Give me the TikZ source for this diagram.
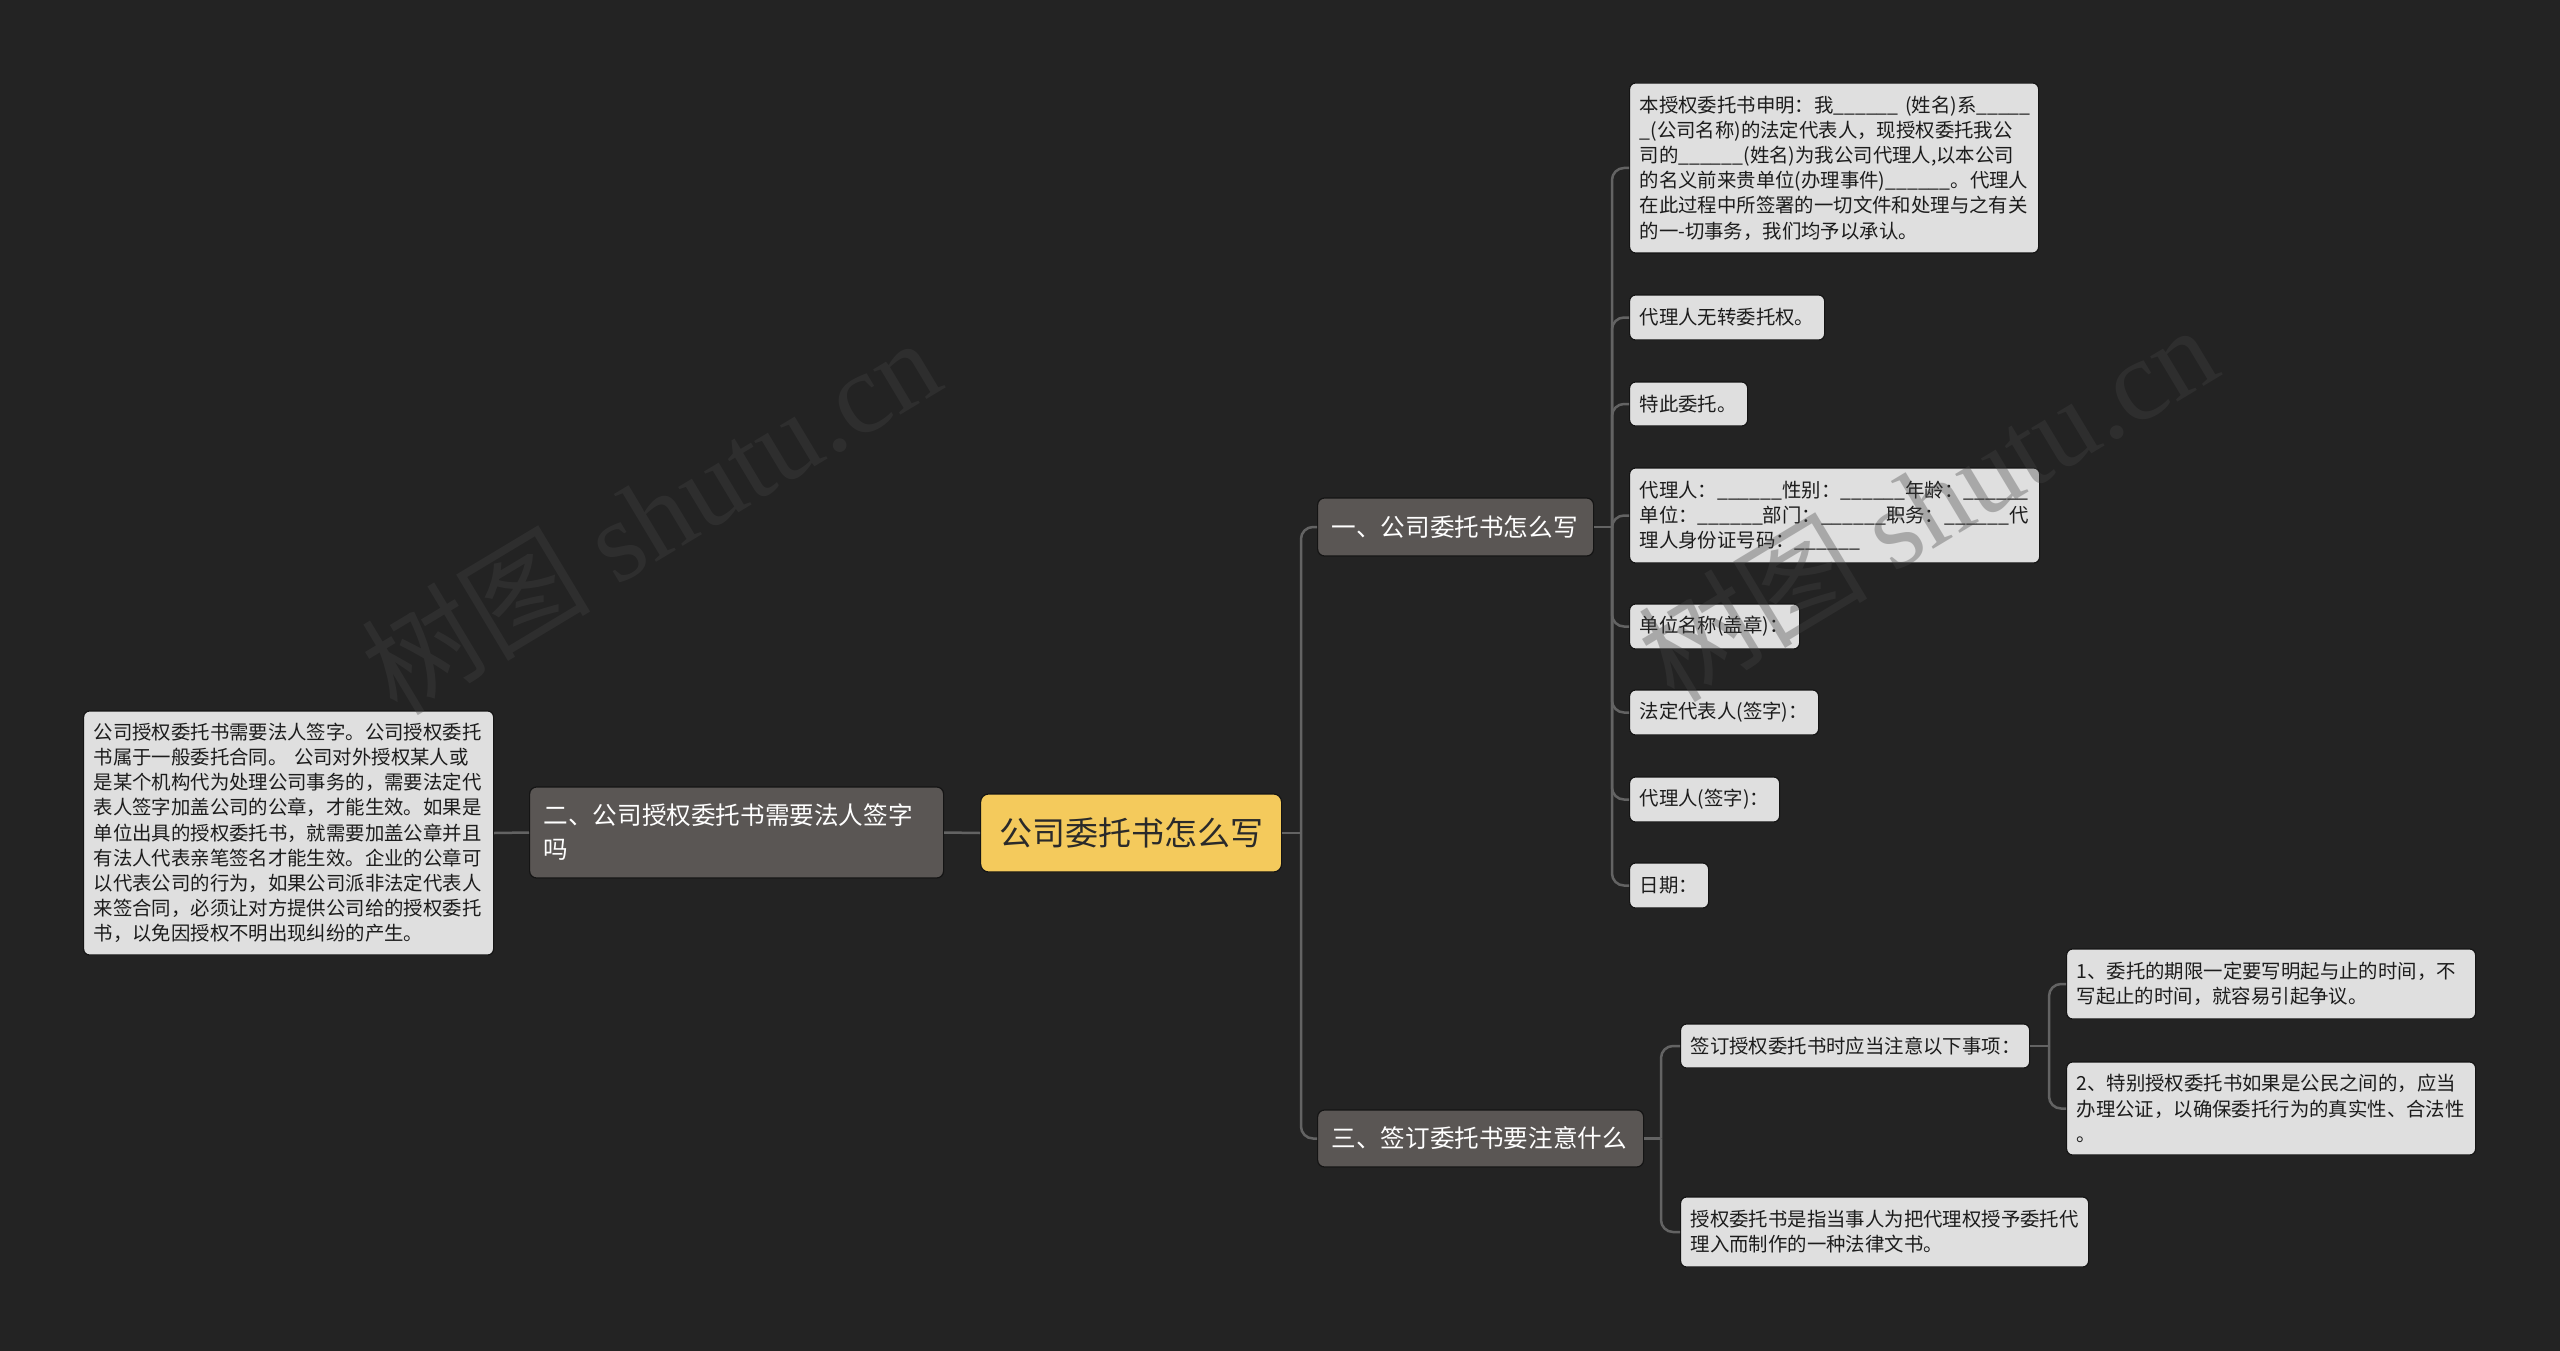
\documentclass[tikz,border=0pt]{standalone}
\usepackage{fontspec}
\setmainfont{Noto Sans CJK SC}
\newfontfamily\wmserif{Liberation Serif}
\definecolor{bgc}{HTML}{232323}
\definecolor{leafc}{HTML}{DFDFDF}
\definecolor{leaftext}{HTML}{1C1C1C}
\definecolor{midc}{HTML}{5A5654}
\definecolor{rootc}{HTML}{F4CA5C}
\definecolor{roottext}{HTML}{2A2A2A}
\definecolor{linec}{HTML}{636363}
\definecolor{edgec}{HTML}{141414}
\definecolor{wmc}{HTML}{444444}
\tikzset{
  conn/.style={draw=linec, line width=2.5pt, rounded corners=12pt},
  boxedge/.style={draw=edgec, line width=1.2pt},
  leaf/.style={boxedge, fill=leafc, rounded corners=6pt, text=leaftext, anchor=west, align=left,
    inner xsep=10pt, inner ysep=3pt, font=\fontsize{19.4}{25.2}\selectfont},
  mid/.style={boxedge, fill=midc, rounded corners=7pt, text=white, anchor=west, align=left,
    inner xsep=14pt, inner ysep=3pt, font=\fontsize{24.6}{34}\selectfont},
  rootn/.style={boxedge, fill=rootc, rounded corners=8pt, text=roottext, anchor=west, align=center,
    inner xsep=0pt, inner ysep=3pt, font=\fontsize{33}{40}\selectfont},
  wm/.style={text=wmc, opacity=0.35, font=\fontsize{115}{120}\selectfont, rotate=31}
}
\begin{document}
\begin{tikzpicture}[x=1pt, y=-1pt]
\useasboundingbox (0,0) rectangle (2560,1351);
\fill[bgc] (0,0) rectangle (2560,1351);

% connectors first (below boxes)
\coordinate (s0) at (1301,833);
\coordinate (s1) at (1612,527);
\coordinate (s3) at (1661,1138.5);
\coordinate (sA) at (2049,1046);

% root and second level
\node[rootn, text width=301pt, minimum height=78pt] (root) at (980,833) {公司委托书怎么写};
\node[mid, text width=386pt, minimum height=91pt] (n2) at (529,832.5) {二、公司授权委托书需要法人签字\\吗};
\node[mid, text width=248pt, minimum height=58pt] (n1) at (1317,527) {一、公司委托书怎么写};
\node[mid, text width=298pt, minimum height=57pt] (n3) at (1317,1138.5) {三、签订委托书要注意什么};

% left leaf
\node[leaf, text width=390pt, minimum height=244pt] (ll) at (83,833) {公司授权委托书需要法人签字。公司授权委托\\书属于一般委托合同。~公司对外授权某人或\\是某个机构代为处理公司事务的，需要法定代\\表人签字加盖公司的公章，才能生效。如果是\\单位出具的授权委托书，就需要加盖公章并且\\有法人代表亲笔签名才能生效。企业的公章可\\以代表公司的行为，如果公司派非法定代表人\\来签合同，必须让对方提供公司给的授权委托\\书，以免因授权不明出现纠纷的产生。};

% leaves of n1
\node[leaf, text width=389pt, minimum height=170pt] (L1) at (1629,168) {本授权委托书申明：我\_\_\_\_\_\_~(姓名)系\_\_\_\_\_\\\_(公司名称)的法定代表人，现授权委托我公\\司的\_\_\_\_\_\_(姓名)为我公司代理人,以本公司\\的名义前来贵单位(办理事件)\_\_\_\_\_\_。代理人\\在此过程中所签署的一切文件和处理与之有关\\的一-切事务，我们均予以承认。};
\node[leaf, text width=175pt, minimum height=45pt] (L2) at (1629,317.5) {代理人无转委托权。};
\node[leaf, text width=98pt, minimum height=44pt] (L3) at (1629,404) {特此委托。};
\node[leaf, text width=390pt, minimum height=95pt] (L4) at (1629,515.5) {代理人：\_\_\_\_\_\_性别：\_\_\_\_\_\_年龄：\_\_\_\_\_\_\\单位：\_\_\_\_\_\_部门：\_\_\_\_\_\_职务：\_\_\_\_\_\_代\\理人身份证号码：\_\_\_\_\_\_};
\node[leaf, text width=150pt, minimum height=45pt] (L5) at (1629,626.5) {单位名称(盖章)：};
\node[leaf, text width=169pt, minimum height=45pt] (L6) at (1629,712.5) {法定代表人(签字)：};
\node[leaf, text width=130pt, minimum height=45pt] (L7) at (1629,799.5) {代理人(签字)：};
\node[leaf, text width=59pt, minimum height=45pt] (L8) at (1629,885.5) {日期：};

% leaves of n3
\node[leaf, text width=329pt, minimum height=44pt] (A) at (1680,1046) {签订授权委托书时应当注意以下事项：};
\node[leaf, text width=388pt, minimum height=70pt] (B) at (1680,1232) {授权委托书是指当事人为把代理权授予委托代\\理入而制作的一种法律文书。};
\node[leaf, text width=389pt, minimum height=70pt] (A1) at (2066,984) {1、委托的期限一定要写明起与止的时间，不\\写起止的时间，就容易引起争议。};
\node[leaf, text width=389pt, minimum height=93pt] (A2) at (2066,1108.5) {2、特别授权委托书如果是公民之间的，应当\\办理公证，以确保委托行为的真实性、合法性\\。};

% connectors
\begin{scope}[on background layer/.style={}]
\draw[conn] (root.west) -- (n2.east);
\draw[conn] (n2.west) -- (ll.east);

\draw[conn] (root.east) -- (s0);
\draw[conn] (s0) |- (n1.west);
\draw[conn] (s0) |- (n3.west);

\draw[conn] (n1.east) -- (s1);
\foreach \t in {L1,L2,L3,L4,L5,L6,L7,L8}{
  \draw[conn] (s1) |- (\t.west);
}

\draw[conn] (n3.east) -- (s3);
\draw[conn] (s3) |- (A.west);
\draw[conn] (s3) |- (B.west);

\draw[conn] (A.east) -- (sA);
\draw[conn] (sA) |- (A1.west);
\draw[conn] (sA) |- (A2.west);
\end{scope}

% watermarks
\node[wm] (wm1) at (650,515) {树图 {\wmserif shutu.cn}};
\node[wm] (wm2) at (1927,502) {树图 {\wmserif shutu.cn}};
\end{tikzpicture}
\end{document}
